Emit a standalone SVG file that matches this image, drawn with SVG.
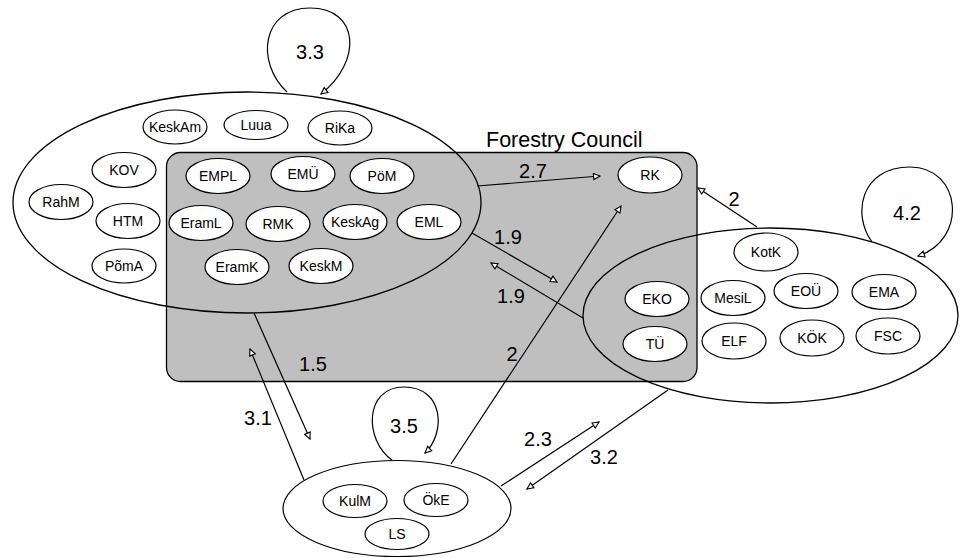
<svg xmlns="http://www.w3.org/2000/svg" width="965" height="558" viewBox="0 0 965 558">
<defs>
<style>
.grp{fill:none;stroke:#000;stroke-width:1.3}
.nd{fill:#fff;stroke:#000;stroke-width:1.2}
.nt{font-family:"Liberation Sans",Arial,sans-serif;font-size:14px;text-anchor:middle;fill:#000}
.lb{font-family:"Liberation Sans",Arial,sans-serif;font-size:20px;text-anchor:middle;fill:#000}
.ttl{font-family:"Liberation Sans",Arial,sans-serif;font-size:21.5px;fill:#000}
.cn{fill:none;stroke:#000;stroke-width:1.2;marker-end:url(#ah)}
</style>
<marker id="ah" viewBox="0 0 10 10" refX="9" refY="5" markerWidth="9" markerHeight="8" markerUnits="userSpaceOnUse" orient="auto">
<path d="M1,1.2 L9,5 L1,8.8 Z" fill="#fff" stroke="#000" stroke-width="1.4"/>
</marker>
</defs>
<rect width="965" height="558" fill="#fff"/>

<g id="forestry-council">
<rect x="166.5" y="152.5" width="530.5" height="229" rx="14" ry="14" fill="#bfbfbf" stroke="#000" stroke-width="1.3"/>
<text class="ttl" x="486" y="147">Forestry Council</text>
</g>

<g id="group-left"><ellipse class="grp" cx="247" cy="202.5" rx="234" ry="110.5"/></g>
<g id="group-right"><ellipse class="grp" cx="770.5" cy="315.5" rx="187.5" ry="87.5"/></g>
<g id="group-bottom"><ellipse class="nd" cx="397" cy="508.5" rx="114" ry="48"/></g>

<g id="connectors">
<path class="cn" d="M287,92 C255,62 262,8 310,8 C360,8 362,62 321,94"/>
<path class="cn" d="M872,242 C852,215 860,167 910,167 C962,167 968,240 918,256"/>
<path class="cn" d="M392,460 C364,440 364,387 404,387 C444,387 446,433 425,453"/>
<path class="cn" d="M477,186 L600,176"/>
<path class="cn" d="M757,227 L698,188"/>
<path class="cn" d="M472,233 L557,282"/>
<path class="cn" d="M583,318 L491,263"/>
<path class="cn" d="M451,464 L621,206"/>
<path class="cn" d="M304,480 L250,349"/>
<path class="cn" d="M254,313 L310,439"/>
<path class="cn" d="M501,486 L599,422"/>
<path class="cn" d="M668,390 L527,489"/>
</g>

<g id="labels">
<text class="lb" x="310" y="59">3.3</text>
<text class="lb" x="907" y="220">4.2</text>
<text class="lb" x="404" y="433">3.5</text>
<text class="lb" x="533" y="178">2.7</text>
<text class="lb" x="734" y="206">2</text>
<text class="lb" x="508" y="244">1.9</text>
<text class="lb" x="511" y="303">1.9</text>
<text class="lb" x="512" y="361">2</text>
<text class="lb" x="313" y="371">1.5</text>
<text class="lb" x="258" y="425">3.1</text>
<text class="lb" x="538" y="446">2.3</text>
<text class="lb" x="604" y="464">3.2</text>
</g>

<g id="KeskAm"><ellipse class="nd" cx="175" cy="127" rx="32" ry="17"/><text class="nt" x="175" y="132">KeskAm</text></g>
<g id="Luua"><ellipse class="nd" cx="256" cy="125" rx="32" ry="14.5"/><text class="nt" x="256" y="130">Luua</text></g>
<g id="RiKa"><ellipse class="nd" cx="340" cy="128" rx="32" ry="17"/><text class="nt" x="340" y="133">RiKa</text></g>
<g id="KOV"><ellipse class="nd" cx="124" cy="170" rx="32" ry="17.5"/><text class="nt" x="124" y="175">KOV</text></g>
<g id="RahM"><ellipse class="nd" cx="61" cy="202" rx="32" ry="17.5"/><text class="nt" x="61" y="207">RahM</text></g>
<g id="HTM"><ellipse class="nd" cx="128" cy="221" rx="32" ry="17.5"/><text class="nt" x="128" y="226">HTM</text></g>
<g id="PomA"><ellipse class="nd" cx="124" cy="266" rx="32" ry="17"/><text class="nt" x="124" y="271">PõmA</text></g>
<g id="EMPL"><ellipse class="nd" cx="218" cy="176" rx="32" ry="17.5"/><text class="nt" x="218" y="181">EMPL</text></g>
<g id="EMU"><ellipse class="nd" cx="303" cy="174" rx="32" ry="17.5"/><text class="nt" x="303" y="179">EMÜ</text></g>
<g id="PoM"><ellipse class="nd" cx="382" cy="176" rx="32" ry="17.5"/><text class="nt" x="382" y="181">PöM</text></g>
<g id="EramL"><ellipse class="nd" cx="201" cy="223" rx="32" ry="17.5"/><text class="nt" x="201" y="228">EramL</text></g>
<g id="RMK"><ellipse class="nd" cx="278" cy="224" rx="32" ry="17.5"/><text class="nt" x="278" y="229">RMK</text></g>
<g id="KeskAg"><ellipse class="nd" cx="355" cy="222" rx="32" ry="17.5"/><text class="nt" x="355" y="227">KeskAg</text></g>
<g id="EML"><ellipse class="nd" cx="429" cy="222" rx="32" ry="17.5"/><text class="nt" x="429" y="227">EML</text></g>
<g id="EramK"><ellipse class="nd" cx="237" cy="267" rx="32" ry="17.5"/><text class="nt" x="237" y="272">EramK</text></g>
<g id="KeskM"><ellipse class="nd" cx="321" cy="266" rx="32" ry="17.5"/><text class="nt" x="321" y="271">KeskM</text></g>

<g id="RK"><ellipse class="nd" cx="650" cy="175" rx="32" ry="18"/><text class="nt" x="650" y="180">RK</text></g>

<g id="KotK"><ellipse class="nd" cx="766" cy="252" rx="32" ry="19"/><text class="nt" x="766" y="257">KotK</text></g>
<g id="EKO"><ellipse class="nd" cx="657" cy="299" rx="32" ry="17.5"/><text class="nt" x="657" y="304">EKO</text></g>
<g id="TU"><ellipse class="nd" cx="655" cy="344" rx="32" ry="17.5"/><text class="nt" x="655" y="349">TÜ</text></g>
<g id="MesiL"><ellipse class="nd" cx="733" cy="298" rx="32" ry="17.5"/><text class="nt" x="733" y="303">MesiL</text></g>
<g id="EOU"><ellipse class="nd" cx="806" cy="291" rx="32" ry="17.5"/><text class="nt" x="806" y="296">EOÜ</text></g>
<g id="EMA"><ellipse class="nd" cx="884" cy="292" rx="32" ry="17.5"/><text class="nt" x="884" y="297">EMA</text></g>
<g id="ELF"><ellipse class="nd" cx="734" cy="341" rx="32" ry="18"/><text class="nt" x="734" y="346">ELF</text></g>
<g id="KOK"><ellipse class="nd" cx="812" cy="338" rx="32" ry="18"/><text class="nt" x="812" y="343">KÖK</text></g>
<g id="FSC"><ellipse class="nd" cx="888" cy="336" rx="32" ry="18"/><text class="nt" x="888" y="341">FSC</text></g>

<g id="KulM"><ellipse class="nd" cx="355" cy="501" rx="32" ry="16.5"/><text class="nt" x="355" y="506">KulM</text></g>
<g id="OkE"><ellipse class="nd" cx="436" cy="500" rx="32" ry="16.5"/><text class="nt" x="436" y="505">ÖkE</text></g>
<g id="LS"><ellipse class="nd" cx="397" cy="534" rx="32" ry="15.5"/><text class="nt" x="397" y="539">LS</text></g>
</svg>
